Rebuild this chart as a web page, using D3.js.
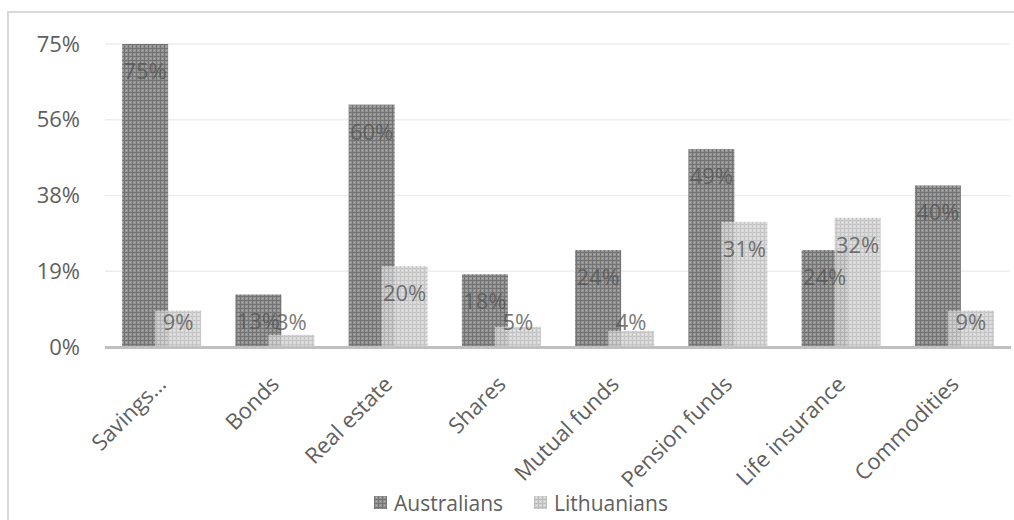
<!DOCTYPE html>
<html>
<head>
<meta charset="utf-8">
<script src="https://cdn.jsdelivr.net/npm/d3@7"></script>
<style>
  html, body { margin: 0; padding: 0; background: #fff; }
  svg { display: block; font-family: "Open Sans", "Noto Sans", sans-serif; }
</style>
</head>
<body>
<svg id="chart" width="1014" height="520"></svg>
<script>
// Investment types and share of respondents holding them
const categories = ["Savings…", "Bonds", "Real estate", "Shares", "Mutual funds",
                    "Pension funds", "Life insurance", "Commodities"];
const australians = [0.75, 0.13, 0.60, 0.18, 0.24, 0.49, 0.24, 0.40];
const lithuanians = [0.09, 0.03, 0.20, 0.05, 0.04, 0.31, 0.32, 0.09];
const seriesNames = ["Australians", "Lithuanians"];
const tickValues = [0, 0.1875, 0.375, 0.5625, 0.75];

const svg = d3.select("#chart");
const W = 1014, H = 520;
const plot = { left: 105, right: 1011, top: 44, bottom: 347 };

// fill patterns for the two series
const defs = svg.append("defs");
function makePattern(id, bg, line, dot) {
  const p = defs.append("pattern")
    .attr("id", id).attr("patternUnits", "userSpaceOnUse")
    .attr("width", 4).attr("height", 4);
  p.append("rect").attr("width", 4).attr("height", 4).attr("fill", bg);
  p.append("rect").attr("width", 4).attr("height", 1).attr("fill", line);
  p.append("rect").attr("width", 1).attr("height", 4).attr("fill", line);
  p.append("rect").attr("x", 2).attr("y", 2).attr("width", 1).attr("height", 1).attr("fill", dot);
}
makePattern("patAU", "#939393", "#747474", "#b4b4b4");
makePattern("patLT", "#d2d2d2", "#bcbcbc", "#e8e8e8");
const fills = ["url(#patAU)", "url(#patLT)"];

// outer chart frame
svg.append("rect")
  .attr("x", 8).attr("y", 12).attr("width", W + 20).attr("height", H + 20)
  .attr("fill", "none").attr("stroke", "#d9d9d9").attr("stroke-width", 2);

const x = d3.scaleBand().domain(categories).range([plot.left, plot.right]).padding(0);
const y = d3.scaleLinear().domain([0, 0.75]).range([plot.bottom, plot.top]);

// horizontal gridlines
svg.append("g").selectAll("line")
  .data(tickValues.filter(v => v > 0))
  .join("line")
  .attr("x1", plot.left).attr("x2", plot.right - 1)
  .attr("y1", d => y(d)).attr("y2", d => y(d))
  .attr("stroke", "#ededed").attr("stroke-width", 1.5);

// y axis labels
const yAxis = d3.axisLeft(y).tickValues(tickValues)
  .tickFormat(d3.format(".0%")).tickSize(0).tickPadding(0);
const gy = svg.append("g").attr("transform", `translate(80,0)`).call(yAxis);
gy.select(".domain").remove();
gy.selectAll("text")
  .attr("fill", "#606060").style("font-size", "22px")
  .style("font-family", "'Open Sans', sans-serif");

// bars: Australians underneath, Lithuanians overlapping on top
const barW = 46, overlap = 13;
const groupW = barW * 2 - overlap;
const offsets = [-groupW / 2, -groupW / 2 + barW - overlap];
const seriesData = [australians, lithuanians];

seriesData.forEach((vals, s) => {
  svg.append("g")
    .attr("opacity", s === 1 ? 0.85 : 1)
    .selectAll("rect")
    .data(vals)
    .join("rect")
    .attr("x", (d, i) => x(categories[i]) + x.bandwidth() / 2 + offsets[s])
    .attr("y", d => y(d))
    .attr("width", barW)
    .attr("height", d => y(0) - y(d))
    .attr("fill", fills[s]);
});

// baseline
svg.append("line")
  .attr("x1", plot.left).attr("x2", plot.right)
  .attr("y1", y(0) + 0.5).attr("y2", y(0) + 0.5)
  .attr("stroke", "#c0c0c0").attr("stroke-width", 3);

// value labels inside the bars
seriesData.forEach((vals, s) => {
  svg.append("g").selectAll("text")
    .data(vals)
    .join("text")
    .attr("x", (d, i) => x(categories[i]) + x.bandwidth() / 2 + offsets[s] + barW / 2)
    .attr("y", d => Math.min(y(d) + 27, y(0) - 25))
    .attr("dy", "0.36em")
    .attr("text-anchor", "middle")
    .attr("fill", "#555555")
    .attr("fill-opacity", 0.8)
    .style("font-size", "22px")
    .text(d => d3.format(".0%")(d));
});

// rotated category labels
svg.append("g").selectAll("text")
  .data(categories)
  .join("text")
  .attr("transform", d => `translate(${x(d) + x.bandwidth() / 2 - 6},374) rotate(-45)`)
  .attr("text-anchor", "end")
  .attr("dy", "0.75em")
  .attr("fill", "#606060")
  .style("font-size", "22px")
  .text(d => d);

// legend
const legend = svg.append("g").attr("transform", "translate(374,503)");
const legendX = [0, 160];
seriesNames.forEach((name, s) => {
  const g = legend.append("g").attr("transform", `translate(${legendX[s]},0)`);
  g.append("rect").attr("x", 0).attr("y", -7).attr("width", 13).attr("height", 13)
    .attr("fill", fills[s]);
  g.append("text").attr("x", 20).attr("y", 0).attr("dy", "0.36em")
    .attr("fill", "#606060").style("font-size", "21px").text(name);
});
</script>
</body>
</html>
